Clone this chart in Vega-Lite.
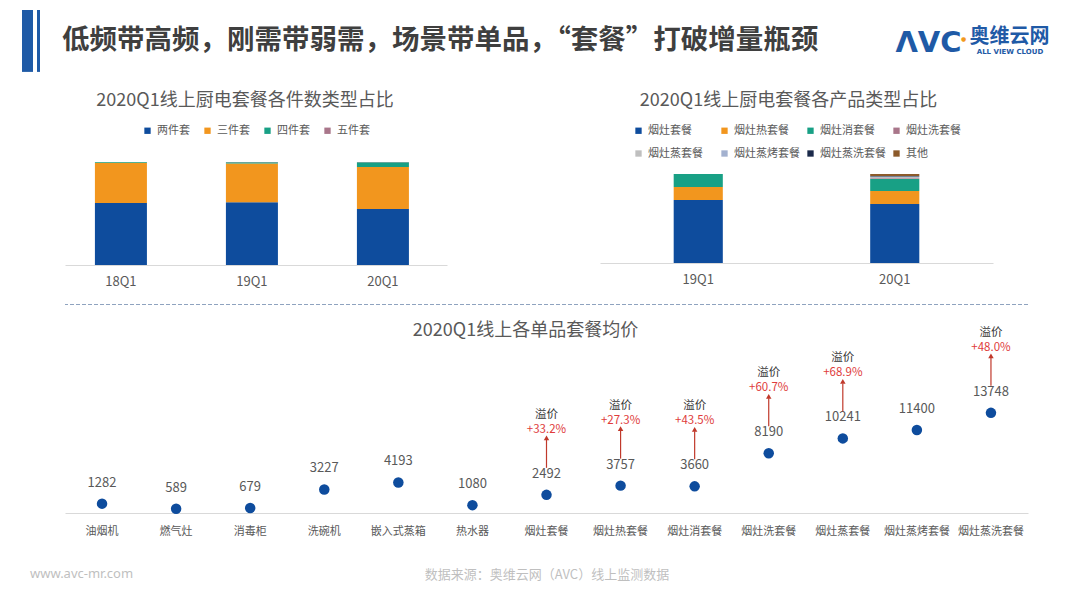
{
  "$schema": "https://vega.github.io/schema/vega-lite/v6.json",
  "background": "white",
  "padding": {"left": 22, "top": 10, "right": 10, "bottom": 8},
  "config": {
    "view": {"stroke": null},
    "font": "Noto Sans CJK SC",
    "legend": {"layout": {"top": {"anchor": "middle"}}}
  },
  "title": {"text": "www.avc-mr.com", "orient": "bottom", "anchor": "start", "frame": "bounds", "offset": -13, "dx": 8, "fontSize": 13, "fontWeight": "normal", "color": "#BFBFBF", "font": "Noto Sans"},
  "columns": 1,
  "spacing": 16,
  "concat": [
    {
      "spacing": 63,
      "hconcat": [
        {
          "width": 22,
          "height": 65,
          "data": {"values": [{"k": "a", "v": 1}, {"k": "b", "v": 1, "h": "低频带高频，刚需带弱需，场景带单品，“套餐”打破增量瓶颈"}]},
          "encoding": {
            "x": {"field": "k", "type": "nominal", "axis": null, "scale": {"paddingInner": 0, "paddingOuter": 0}}
          },
          "layer": [
            {"transform": [{"filter": "datum.k === 'a'"}], "mark": {"type": "bar", "width": 11, "xOffset": -43, "color": "#1F5AA6"}, "encoding": {"y": {"field": "v", "type": "quantitative", "axis": null, "scale": {"domain": [0, 1.05], "reverse": true}}}},
            {"transform": [{"filter": "datum.k === 'b'"}], "mark": {"type": "bar", "width": 3, "xOffset": -43, "color": "#1F5AA6"}, "encoding": {"y": {"field": "v", "type": "quantitative", "axis": null, "scale": {"domain": [0, 1.05], "reverse": true}}}},
            {"transform": [{"filter": "datum.h != null"}], "mark": {"type": "text", "align": "left", "baseline": "middle", "dx": -19.5, "dy": -2, "fontSize": 27.5, "fontWeight": "bold", "color": "#3F3F3F"}, "encoding": {"text": {"field": "h"}}}
          ]
        },
        {
          "width": 157,
          "height": 65,
          "data": {"values": [{"a": "ΛVC", "b": "奥维云网", "c": "ALL VIEW CLOUD", "d": "●"}]},
          "layer": [
            {"mark": {"type": "text", "fontSize": 29, "fontWeight": "bold", "color": "#1F5AA6", "dx": -46, "dy": 0, "font": "DejaVu Sans"}, "encoding": {"text": {"field": "a"}}},
            {"mark": {"type": "text", "fontSize": 6, "color": "#F29A1E", "dx": -11, "dy": -4, "font": "DejaVu Sans"}, "encoding": {"text": {"field": "d"}}},
            {"mark": {"type": "text", "fontSize": 20, "fontWeight": "bold", "color": "#1F5AA6", "dx": 35, "dy": -6}, "encoding": {"text": {"field": "b"}}},
            {"mark": {"type": "text", "fontSize": 7, "fontWeight": "bold", "color": "#1F5AA6", "dx": 35.5, "dy": 9, "font": "DejaVu Sans"}, "encoding": {"text": {"field": "c"}}}
          ]
        }
      ]
    },
    {
      "spacing": 153,
      "resolve": {"scale": {"color": "independent"}, "legend": {"color": "independent"}},
      "hconcat": [
        {
          "width": 382,
          "height": 103,
          "title": {"text": "2020Q1线上厨电套餐各件数类型占比", "fontSize": 18, "fontWeight": "normal", "color": "#595959", "frame": "group", "dx": -11, "offset": 15.5},
          "data": {"values": [
            {"q": "18Q1", "t": "两件套", "o": 1, "p": 60.2},
            {"q": "18Q1", "t": "三件套", "o": 2, "p": 39.0},
            {"q": "18Q1", "t": "四件套", "o": 3, "p": 0.7},
            {"q": "18Q1", "t": "五件套", "o": 4, "p": 0.1},
            {"q": "19Q1", "t": "两件套", "o": 1, "p": 61.0},
            {"q": "19Q1", "t": "三件套", "o": 2, "p": 37.5},
            {"q": "19Q1", "t": "四件套", "o": 3, "p": 1.3},
            {"q": "19Q1", "t": "五件套", "o": 4, "p": 0.2},
            {"q": "20Q1", "t": "两件套", "o": 1, "p": 54.4},
            {"q": "20Q1", "t": "三件套", "o": 2, "p": 40.7},
            {"q": "20Q1", "t": "四件套", "o": 3, "p": 4.7},
            {"q": "20Q1", "t": "五件套", "o": 4, "p": 0.2}
          ]},
          "mark": {"type": "bar"},
          "encoding": {
            "x": {"field": "q", "type": "nominal", "scale": {"paddingInner": 0.603, "paddingOuter": 0.2595, "align": 0.44}, "axis": {"title": null, "labelAngle": 0, "labelFontSize": 13, "labelColor": "#595959", "labelPadding": 10, "ticks": false, "domainColor": "#D9D9D9"}},
            "y": {"field": "p", "type": "quantitative", "stack": "zero", "scale": {"domain": [0, 100], "nice": false}, "axis": null},
            "color": {"field": "t", "type": "nominal", "scale": {"domain": ["两件套", "三件套", "四件套", "五件套"], "range": ["#0E4C9D", "#F2961E", "#18A085", "#A9768A"]}, "legend": {"orient": "top", "direction": "horizontal", "title": null, "symbolType": "square", "symbolSize": 40, "symbolStrokeWidth": 0, "labelFontSize": 11, "labelColor": "#595959", "columnPadding": 12, "offset": 26}},
            "order": {"field": "o"}
          }
        },
        {
          "width": 393,
          "height": 101,
          "title": {"text": "2020Q1线上厨电套餐各产品类型占比", "fontSize": 18, "fontWeight": "normal", "color": "#595959", "frame": "group", "dx": -8, "offset": 15.5},
          "data": {"values": [
            {"q": "19Q1", "t": "烟灶套餐", "o": 1, "p": 70.8},
            {"q": "19Q1", "t": "烟灶热套餐", "o": 2, "p": 14.6},
            {"q": "19Q1", "t": "烟灶消套餐", "o": 3, "p": 14.6},
            {"q": "20Q1", "t": "烟灶套餐", "o": 1, "p": 66.3},
            {"q": "20Q1", "t": "烟灶热套餐", "o": 2, "p": 14.6},
            {"q": "20Q1", "t": "烟灶消套餐", "o": 3, "p": 13.5},
            {"q": "20Q1", "t": "烟灶洗套餐", "o": 4, "p": 0.8},
            {"q": "20Q1", "t": "烟灶蒸套餐", "o": 5, "p": 1.5},
            {"q": "20Q1", "t": "烟灶蒸烤套餐", "o": 6, "p": 0.6},
            {"q": "20Q1", "t": "烟灶蒸洗套餐", "o": 7, "p": 0.5},
            {"q": "20Q1", "t": "其他", "o": 8, "p": 2.2}
          ]},
          "mark": {"type": "bar"},
          "encoding": {
            "x": {"field": "q", "type": "nominal", "scale": {"paddingInner": 0.75, "paddingOuter": 0.375}, "axis": {"title": null, "labelAngle": 0, "labelFontSize": 13, "labelColor": "#595959", "labelPadding": 10, "ticks": false, "domainColor": "#D9D9D9"}},
            "y": {"field": "p", "type": "quantitative", "stack": "zero", "scale": {"domain": [0, 113.5], "nice": false}, "axis": null},
            "color": {"field": "t", "type": "nominal", "scale": {"domain": ["烟灶套餐", "烟灶热套餐", "烟灶消套餐", "烟灶洗套餐", "烟灶蒸套餐", "烟灶蒸烤套餐", "烟灶蒸洗套餐", "其他"], "range": ["#0E4C9D", "#F2961E", "#18A085", "#A9768A", "#BFBFBF", "#A3B1CF", "#1B2A4A", "#8C5A2A"]}, "legend": {"orient": "top", "direction": "horizontal", "columns": 4, "gridAlign": "all", "title": null, "symbolType": "square", "symbolSize": 40, "symbolStrokeWidth": 0, "labelFontSize": 11, "labelColor": "#595959", "columnPadding": 5, "rowPadding": 11, "offset": 3}},
            "order": {"field": "o"}
          }
        }
      ]
    },
    {
      "width": 973,
      "height": 1,
      "data": {"values": [{"s": 0}]},
      "mark": {"type": "rule", "color": "#8FA3BF", "strokeDash": [4, 2], "strokeWidth": 1, "xOffset": -10, "x2Offset": 0},
      "encoding": {
        "y": {"field": "s", "type": "quantitative", "axis": null}
      }
    },
    {
      "width": 963,
      "height": 102,
      "title": {"text": "2020Q1线上各单品套餐均价", "fontSize": 18, "fontWeight": "normal", "color": "#595959", "offset": -13, "dx": -21},
      "data": {"values": [
        {"c": "油烟机", "v": 1282, "pr": null},
        {"c": "燃气灶", "v": 589, "pr": null},
        {"c": "消毒柜", "v": 679, "pr": null},
        {"c": "洗碗机", "v": 3227, "pr": null},
        {"c": "嵌入式蒸箱", "v": 4193, "pr": null},
        {"c": "热水器", "v": 1080, "pr": null},
        {"c": "烟灶套餐", "v": 2492, "pr": 0.332},
        {"c": "烟灶热套餐", "v": 3757, "pr": 0.273},
        {"c": "烟灶消套餐", "v": 3660, "pr": 0.435},
        {"c": "烟灶洗套餐", "v": 8190, "pr": 0.607},
        {"c": "烟灶蒸套餐", "v": 10241, "pr": 0.689},
        {"c": "烟灶蒸烤套餐", "v": 11400, "pr": null},
        {"c": "烟灶蒸洗套餐", "v": 13748, "pr": 0.48}
      ]},
      "encoding": {
        "x": {"field": "c", "type": "nominal", "sort": null, "scale": {"paddingInner": 0, "paddingOuter": 0}, "axis": {"title": "数据来源：奥维云网（AVC）线上监测数据", "titleFontSize": 13, "titleColor": "#BFBFBF", "titleFontWeight": "normal", "titlePadding": 32, "labelAngle": 0, "labelFontSize": 11, "labelColor": "#595959", "labelPadding": 12, "ticks": false, "domainColor": "#D9D9D9"}},
        "y": {"field": "v", "type": "quantitative", "scale": {"domain": [0, 14000], "nice": false}, "axis": null}
      },
      "layer": [
        {"mark": {"type": "circle", "size": 110, "color": "#0E4C9D", "opacity": 1}},
        {"mark": {"type": "text", "dy": -21, "fontSize": 13, "color": "#595959"}, "encoding": {"text": {"field": "v", "type": "quantitative", "format": "d"}}},
        {"transform": [{"filter": "datum.pr != null"}], "mark": {"type": "rule", "yOffset": -27, "y2Offset": -55, "color": "#C0392B", "strokeWidth": 1.2}, "encoding": {"y2": {"field": "v"}}},
        {"transform": [{"filter": "datum.pr != null"}], "mark": {"type": "point", "shape": "triangle-up", "filled": true, "size": 30, "yOffset": -57, "color": "#C0392B", "opacity": 1}},
        {"transform": [{"filter": "datum.pr != null"}], "mark": {"type": "text", "dy": -65, "fontSize": 11.5, "color": "#E03C3C"}, "encoding": {"text": {"field": "pr", "type": "quantitative", "format": "+.1%"}}},
        {"transform": [{"filter": "datum.pr != null"}], "mark": {"type": "text", "dy": -80, "fontSize": 11.5, "color": "#333333", "text": "溢价"}}
      ]
    }
  ]
}
